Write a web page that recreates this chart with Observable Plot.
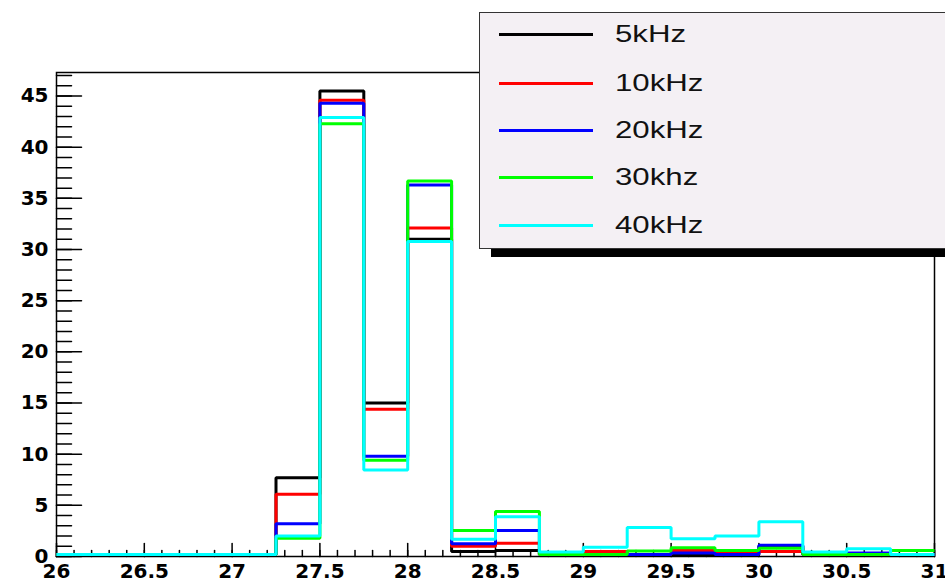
<!DOCTYPE html>
<html>
<head>
<meta charset="utf-8">
<script src="https://cdn.jsdelivr.net/npm/d3@7"></script>
<script src="https://cdn.jsdelivr.net/npm/@observablehq/plot@0.6"></script>
<style>
  html, body { margin: 0; padding: 0; background: #fff; overflow: hidden; }
  #wrap { position: relative; width: 945px; height: 584px; }
  #legend {
    position: absolute; left: 479px; top: 12px; width: 520px; height: 235px;
    background: #f4f0f4; border: 1px solid #333; box-shadow: 12px 8px 0 0 #000;
    font-family: "Liberation Sans", Arial, sans-serif;
  }
  .row { position: absolute; left: 0; height: 0; }
  .swatch { position: absolute; left: 19px; width: 94px; height: 3px; top: -1.5px; }
  .lab { position: absolute; left: 135px; top: -14px; font-size: 24px; line-height: 28px;
         transform: scaleX(1.3); transform-origin: left center; color: #111; white-space: nowrap; }
</style>
</head>
<body>
<div id="wrap"></div>
<script>
// bin lower edges (width 0.25) and the upper limit
const binEdges = [26, 26.25, 26.5, 26.75, 27, 27.25, 27.5, 27.75, 28, 28.25,
                  28.5, 28.75, 29, 29.25, 29.5, 29.75, 30, 30.25, 30.5, 30.75, 31];

const seriesNames = ["5kHz", "10kHz", "20kHz", "30khz", "40kHz"];
const seriesColors = ["#000000", "#ff0000", "#0000ff", "#00ff00", "#00ffff"];

const v5kHz  = [0, 0, 0, 0, 0, 7.5, 45.3, 14.8, 30.8, 0.3, 0.4, 0, 0, 0, 0, 0, 0.8, 0, 0.1, 0];
const v10kHz = [0, 0, 0, 0, 0, 5.9, 44.4, 14.2, 31.9, 0.8, 1.1, 0, 0.3, 0, 0.4, 0.2, 0.3, 0, 0, 0];
const v20kHz = [0, 0, 0, 0, 0, 3.0, 44.1, 9.6, 36.1, 1.05, 2.35, 0, 0, 0, 0.15, 0, 0.9, 0, 0.15, 0];
const v30khz = [0, 0, 0, 0, 0, 1.6, 42.1, 9.2, 36.5, 2.35, 4.2, 0, 0, 0.35, 0.65, 0.4, 0.6, 0, 0, 0.4];
const v40kHz = [0, 0, 0, 0, 0, 1.8, 42.7, 8.25, 30.6, 1.5, 3.7, 0.25, 0.7, 2.65, 1.55, 1.8, 3.2, 0.25, 0.55, 0];

const seriesValues = [v5kHz, v10kHz, v20kHz, v30khz, v40kHz];

const xMajorTicks = [26, 26.5, 27, 27.5, 28, 28.5, 29, 29.5, 30, 30.5, 31];
const yMajorTicks = [0, 5, 10, 15, 20, 25, 30, 35, 40, 45];
const xMinorTicks = d3.range(0, 51).map(i => 26 + i * 0.1);
const yMinorTicks = d3.range(0, 48);

// step outline points for each histogram
function stepPoints(values) {
  const pts = [];
  values.forEach((v, i) => {
    pts.push({x: binEdges[i], y: v});
    pts.push({x: binEdges[i + 1], y: v});
  });
  return pts;
}

const tickShape = {draw(context, l) { context.moveTo(0, 0); context.lineTo(0, -l); }};

const histMarks = seriesValues.map((vals, i) =>
  Plot.line(stepPoints(vals), {x: "x", y: "y", stroke: seriesColors[i], strokeWidth: 3,
    strokeLinejoin: "miter", strokeLinecap: "butt", dy: -2})
);

const chart = Plot.plot({
  width: 945,
  height: 584,
  marginLeft: 56,
  marginRight: 11,
  marginTop: 72,
  marginBottom: 28,
  style: {fontFamily: "DejaVu Sans", fontSize: "20px", fontWeight: "bold", color: "#000", background: "transparent"},
  x: {domain: [26, 31]},
  y: {domain: [0, 47.3]},
  marks: [
    Plot.frame({stroke: "#000", strokeWidth: 1.5}),
    Plot.axisY(yMajorTicks, {tickSize: 0, tickPadding: 8, label: null, fill: "#000", tickFormat: d => String(d)}),
    Plot.axisX(xMajorTicks, {tickSize: 0, tickPadding: 7, label: null, fill: "#000", tickFormat: d => String(d)}),
    Plot.vector(yMajorTicks, {y: d => d, frameAnchor: "left", length: 25, rotate: 90, anchor: "start", shape: tickShape, stroke: "#000", strokeWidth: 1.5}),
    Plot.vector(yMinorTicks, {y: d => d, frameAnchor: "left", length: 15, rotate: 90, anchor: "start", shape: tickShape, stroke: "#000", strokeWidth: 1.5}),
    Plot.vector(xMajorTicks, {x: d => d, frameAnchor: "bottom", length: 13, rotate: 0, anchor: "start", shape: tickShape, stroke: "#000", strokeWidth: 1.5}),
    Plot.vector(xMinorTicks, {x: d => d, frameAnchor: "bottom", length: 6, rotate: 0, anchor: "start", shape: tickShape, stroke: "#000", strokeWidth: 1.5}),
    ...histMarks
  ]
});

const wrap = document.getElementById("wrap");
wrap.appendChild(chart);

// legend box overlapping the plot (ROOT TLegend style)
const legend = document.createElement("div");
legend.id = "legend";
const rowTops = [21, 70, 117, 164, 212];
seriesNames.forEach((name, i) => {
  const row = document.createElement("div");
  row.className = "row";
  row.style.top = rowTops[i] + "px";
  const sw = document.createElement("div");
  sw.className = "swatch";
  sw.style.background = seriesColors[i];
  const lab = document.createElement("div");
  lab.className = "lab";
  lab.textContent = name;
  row.appendChild(sw);
  row.appendChild(lab);
  legend.appendChild(row);
});
wrap.appendChild(legend);
</script>
</body>
</html>
